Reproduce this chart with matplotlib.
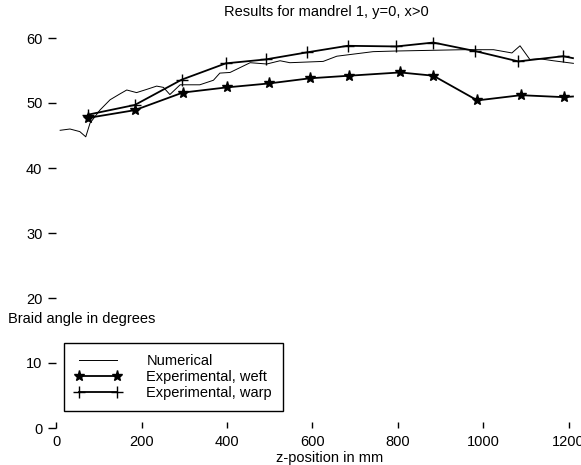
import matplotlib.pyplot as plt

# braid angle along mandrel 1
num_z = [9, 32, 55, 69, 79, 102, 126, 149, 165, 188, 212, 235, 251, 266, 290, 336, 368,
         383, 407, 454, 493, 524, 547, 625, 657, 742, 797, 875, 953, 1024, 1067, 1086,
         1109, 1133, 1164, 1211]
num_angle = [45.8, 46.0, 45.6, 44.8, 46.9, 48.9, 50.5, 51.4, 52.0, 51.6, 52.1, 52.6, 52.4,
             51.3, 52.8, 52.8, 53.5, 54.6, 54.7, 56.2, 56.0, 56.5, 56.2, 56.4, 57.2, 57.9,
             58.0, 58.1, 58.2, 58.2, 57.7, 58.8, 56.7, 56.8, 56.5, 56.1]

weft_z = [74, 184, 296, 399, 497, 594, 686, 805, 883, 986, 1088, 1189, 1210]
weft_angle = [47.7, 48.9, 51.6, 52.4, 53.0, 53.8, 54.2, 54.7, 54.2, 50.4, 51.2, 50.9, 51.0]

warp_z = [74, 184, 294, 397, 490, 588, 682, 796, 883, 980, 1082, 1187, 1210]
warp_angle = [48.2, 49.7, 53.6, 56.1, 56.7, 57.8, 58.8, 58.7, 59.3, 58.0, 56.4, 57.2, 56.9]

xticks = [0, 200, 400, 600, 800, 1000, 1200]
yticks = [0, 10, 20, 30, 40, 50, 60]

plt.rcParams['font.family'] = ['Liberation Sans', 'DejaVu Sans']
plt.rcParams['font.size'] = 10.5

fig = plt.figure(figsize=(5.81, 4.65), dpi=100)
ax = fig.add_axes([56.3 / 581, 37 / 465, 525.2 / 581, 403 / 465])

ax.plot(num_z, num_angle, color='black', lw=0.7, label='Numerical')
ax.plot(weft_z, weft_angle, color='black', lw=1.3, marker='*', ms=8, markevery=list(range(12)),
        label='Experimental, weft')
ax.plot(warp_z, warp_angle, color='black', lw=1.3, marker='+', ms=9, mew=1.0,
        markevery=list(range(12)), label='Experimental, warp')

ax.set_xlim(0, 1230)
ax.set_ylim(0, 62)
ax.set_xticks(xticks)
ax.set_yticks(yticks)
for s in ax.spines.values():
    s.set_visible(False)
ax.tick_params(axis='y', direction='out', length=6, width=1, pad=4)
ax.tick_params(axis='x', direction='in', length=4, width=1, pad=5)

fig.text(326 / 581, 1 - 12 / 465, 'Results for mandrel 1, y=0, x>0', ha='center', va='center')
fig.text(8 / 581, 1 - 319 / 465, 'Braid angle in degrees', ha='left', va='center')
fig.text(330 / 581, 1 - 458 / 465, 'z-position in mm', ha='center', va='center')

leg = ax.legend(loc='lower left', bbox_to_anchor=(64 / 581, 54 / 465),
                bbox_transform=fig.transFigure, fancybox=False, framealpha=1,
                edgecolor='black', borderaxespad=0, handlelength=3.2, numpoints=2,
                labelspacing=0.15, borderpad=0.75, handletextpad=1.7)
leg.get_frame().set_linewidth(1.0)

fig.savefig('out.png', dpi=100)
